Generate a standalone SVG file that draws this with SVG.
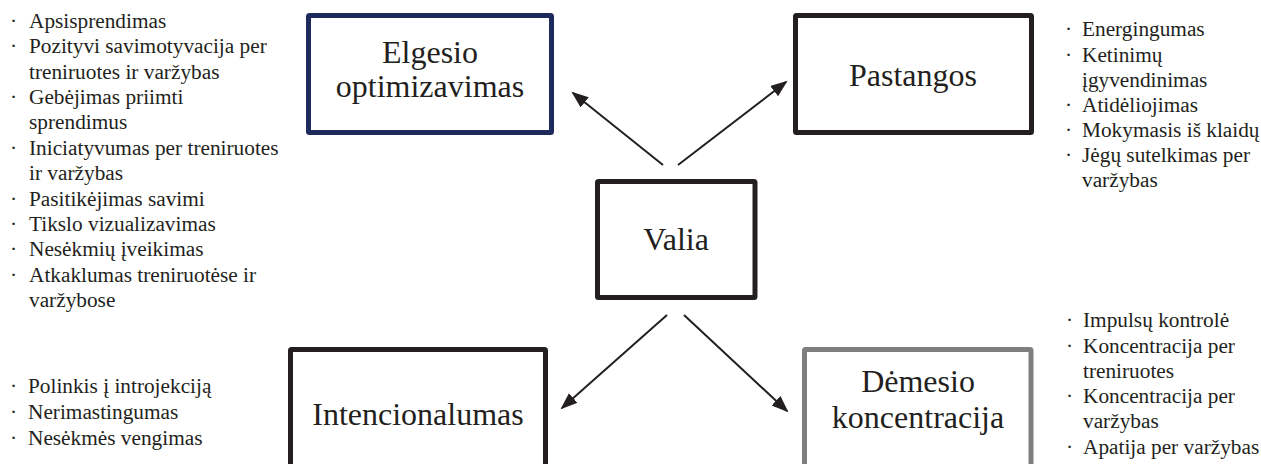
<svg xmlns="http://www.w3.org/2000/svg" width="1261" height="464" viewBox="0 0 1261 464">
  <style>
    .box { fill: #ffffff; stroke: #231f20; stroke-width: 5; }
    .navy { stroke: #1f2a5c; }
    .grey { stroke: #7f7f7f; }
    .label { font-size: 32px; fill: #231f20; text-anchor: middle; }
    .list { font-size: 21.3px; fill: #231f20; }
    .conn { stroke: #231f20; stroke-width: 2; fill: none; marker-end: url(#arrow); }
  </style>
  <defs>
    <marker id="arrow" markerUnits="userSpaceOnUse" markerWidth="18" markerHeight="14" refX="15" refY="6.5" orient="auto">
      <path d="M0,0 L17,6.5 L0,13 Z" fill="#231f20"/>
    </marker>
  </defs>
  <rect width="1261" height="464" fill="#ffffff"/>

  <g id="connectors">
    <line class="conn" x1="663" y1="165" x2="573" y2="93"/>
    <line class="conn" x1="678" y1="165" x2="786" y2="82"/>
    <line class="conn" x1="667" y1="315" x2="562" y2="408"/>
    <line class="conn" x1="684" y1="315" x2="787" y2="411"/>
  </g>

  <g font-family="'Liberation Serif', 'Times New Roman', Times, 'DejaVu Serif', serif">
  <g id="node-elgesio">
    <rect class="box navy" x="308.5" y="15.5" width="243" height="117" rx="1"/>
    <text class="label" x="430" y="63">Elgesio</text>
    <text class="label" x="430" y="97">optimizavimas</text>
  </g>

  <g id="node-pastangos">
    <rect class="box" x="795.5" y="15.5" width="236" height="117" rx="1"/>
    <text class="label" x="913" y="86">Pastangos</text>
  </g>

  <g id="node-valia">
    <rect class="box" x="597.5" y="181.5" width="157.5" height="116" rx="1"/>
    <text class="label" x="676" y="250">Valia</text>
  </g>

  <g id="node-intencionalumas">
    <rect class="box" x="290.5" y="349.5" width="255" height="117" rx="1"/>
    <text class="label" x="418" y="425">Intencionalumas</text>
  </g>

  <g id="node-demesio">
    <rect class="box grey" x="804.5" y="349.5" width="226.5" height="117" rx="1"/>
    <text class="label" x="918" y="392">Dėmesio</text>
    <text class="label" x="918" y="428">koncentracija</text>
  </g>

  <g id="list-elgesio" class="list">
    <text x="10" y="27.5">·</text><text x="29" y="27.5">Apsisprendimas</text>
    <text x="10" y="53">·</text><text x="29" y="53">Pozityvi savimotyvacija per</text>
    <text x="29" y="78.5">treniruotes ir varžybas</text>
    <text x="10" y="104">·</text><text x="29" y="104">Gebėjimas priimti</text>
    <text x="29" y="129">sprendimus</text>
    <text x="10" y="154.5">·</text><text x="29" y="154.5">Iniciatyvumas per treniruotes</text>
    <text x="29" y="180">ir varžybas</text>
    <text x="10" y="205.5">·</text><text x="29" y="205.5">Pasitikėjimas savimi</text>
    <text x="10" y="231">·</text><text x="29" y="231">Tikslo vizualizavimas</text>
    <text x="10" y="256">·</text><text x="29" y="256">Nesėkmių įveikimas</text>
    <text x="10" y="281.5">·</text><text x="29" y="281.5">Atkaklumas treniruotėse ir</text>
    <text x="29" y="307">varžybose</text>
  </g>

  <g id="list-pastangos" class="list">
    <text x="1065" y="36">·</text><text x="1082" y="36">Energingumas</text>
    <text x="1065" y="61.5">·</text><text x="1082" y="61.5">Ketinimų</text>
    <text x="1082" y="86.5">įgyvendinimas</text>
    <text x="1065" y="112">·</text><text x="1082" y="112">Atidėliojimas</text>
    <text x="1065" y="137">·</text><text x="1082" y="137">Mokymasis iš klaidų</text>
    <text x="1065" y="162">·</text><text x="1082" y="162">Jėgų sutelkimas per</text>
    <text x="1082" y="187">varžybas</text>
  </g>

  <g id="list-intencionalumas" class="list">
    <text x="10" y="393">·</text><text x="28" y="393">Polinkis į introjekciją</text>
    <text x="10" y="419">·</text><text x="28" y="419">Nerimastingumas</text>
    <text x="10" y="445">·</text><text x="28" y="445">Nesėkmės vengimas</text>
  </g>

  <g id="list-demesio" class="list">
    <text x="1066" y="327">·</text><text x="1083" y="327">Impulsų kontrolė</text>
    <text x="1066" y="353">·</text><text x="1083" y="353">Koncentracija per</text>
    <text x="1083" y="378">treniruotes</text>
    <text x="1066" y="403">·</text><text x="1083" y="403">Koncentracija per</text>
    <text x="1083" y="428">varžybas</text>
    <text x="1066" y="454">·</text><text x="1083" y="454">Apatija per varžybas</text>
  </g>
  </g>
</svg>
